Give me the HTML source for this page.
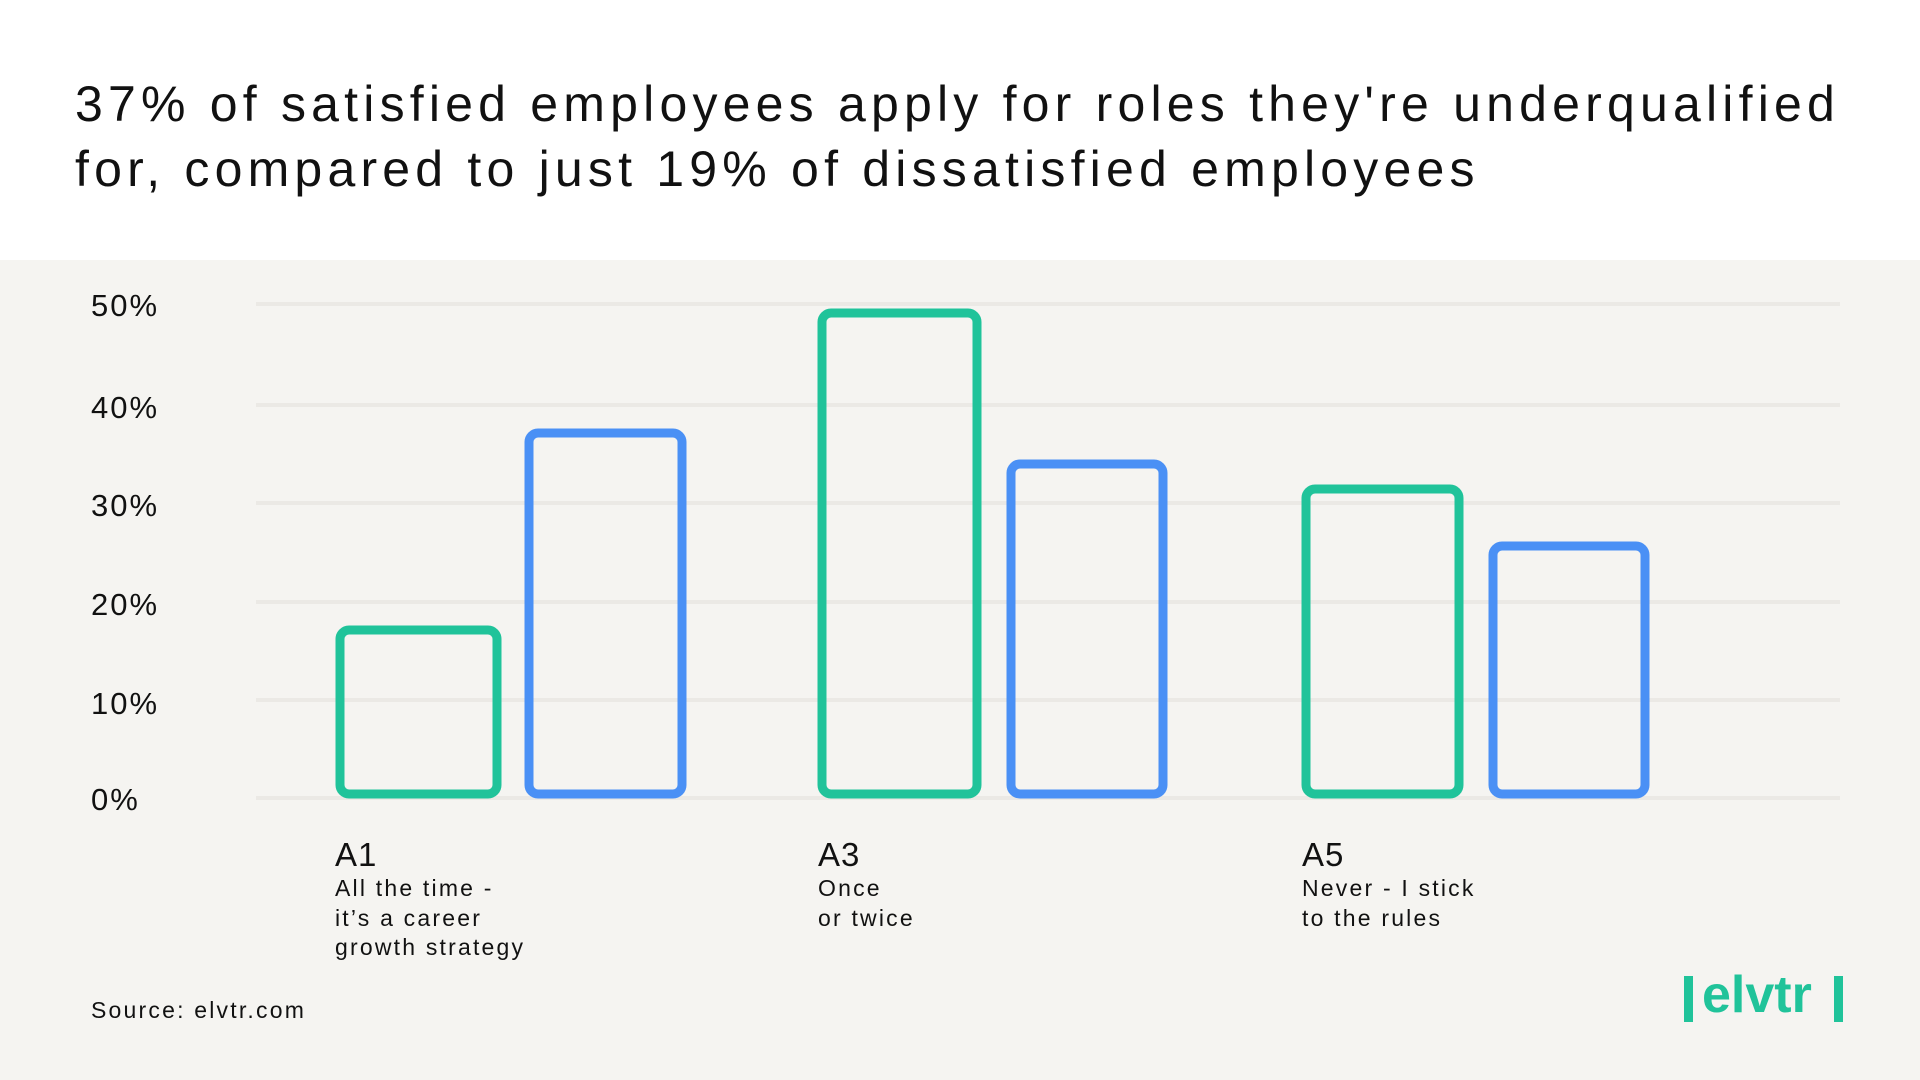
<!DOCTYPE html>
<html><head><meta charset="utf-8"><style>
body{margin:0;width:1920px;height:1080px;background:#fff;font-family:"Liberation Sans",sans-serif;overflow:hidden;position:relative;color:#111}
.title{position:absolute;left:75px;top:72px;font-size:50px;line-height:65px;letter-spacing:5.2px;white-space:nowrap}
.band{position:absolute;left:0;top:260px;width:1920px;height:820px;background:#f5f4f1}
.yl{position:absolute;left:91px;font-size:31px;letter-spacing:2px;transform:translateY(-50%)}
.cat{position:absolute;font-size:33px;letter-spacing:1px}
.sub{position:absolute;font-size:23px;line-height:29.5px;letter-spacing:2.2px;white-space:nowrap}
</style></head><body>
<div class="title">37% of satisfied employees apply for roles they're underqualified<br>for, compared to just 19% of dissatisfied employees</div>
<div class="band"></div>
<svg style="position:absolute;left:0;top:0" width="1920" height="1080">
<g stroke="#ebe9e5" stroke-width="4">
<line x1="256" x2="1840" y1="304" y2="304"/><line x1="256" x2="1840" y1="405" y2="405"/>
<line x1="256" x2="1840" y1="503" y2="503"/><line x1="256" x2="1840" y1="602" y2="602"/>
<line x1="256" x2="1840" y1="700" y2="700"/><line x1="256" x2="1840" y1="798" y2="798"/>
</g>
<g fill="none" stroke-width="9">
<rect x="340" y="630" width="157" height="164" rx="9" stroke="#20c39a"/>
<rect x="529" y="433" width="153" height="361" rx="9" stroke="#4a90f5"/>
<rect x="822" y="313" width="155" height="481" rx="9" stroke="#20c39a"/>
<rect x="1011" y="464" width="152" height="330" rx="9" stroke="#4a90f5"/>
<rect x="1306" y="489" width="153" height="305" rx="9" stroke="#20c39a"/>
<rect x="1493" y="546" width="152" height="248" rx="9" stroke="#4a90f5"/>
</g>
</svg>
<div class="yl" style="top:306px">50%</div>
<div class="yl" style="top:408px">40%</div>
<div class="yl" style="top:506px">30%</div>
<div class="yl" style="top:605px">20%</div>
<div class="yl" style="top:704px">10%</div>
<div class="yl" style="top:800px">0%</div>
<div class="cat" style="left:335px;top:836px">A1</div>
<div class="sub" style="left:335px;top:874px">All the time -<br>it’s a career<br>growth strategy</div>
<div class="cat" style="left:818px;top:836px">A3</div>
<div class="sub" style="left:818px;top:874px">Once<br>or twice</div>
<div class="cat" style="left:1302px;top:836px">A5</div>
<div class="sub" style="left:1302px;top:874px">Never - I stick<br>to the rules</div>
<div class="sub" style="left:91px;top:996px">Source: elvtr.com</div>
<div style="position:absolute;left:1684px;top:974px;height:50px;width:160px;color:#20c39a">
<div style="position:absolute;left:0;top:2px;width:9px;height:46px;background:#20c39a"></div>
<div style="position:absolute;left:18px;top:-9px;font-size:52px;font-weight:bold;letter-spacing:0px">elvtr</div>
<div style="position:absolute;left:150px;top:2px;width:9px;height:46px;background:#20c39a"></div>
</div>
</body></html>
